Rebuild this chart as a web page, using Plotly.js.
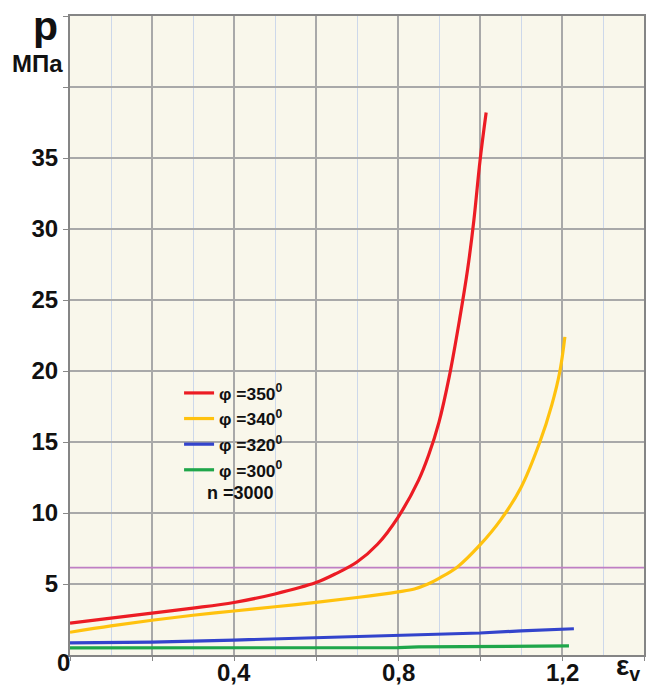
<!DOCTYPE html>
<html>
<head>
<meta charset="utf-8">
<script src="https://cdn.plot.ly/plotly-3.0.1.min.js"></script>
<style>
  html, body { margin: 0; padding: 0; background: #ffffff; }
  #chart { width: 651px; height: 689px; }
</style>
</head>
<body>
<div id="chart"></div>
<script>
// ---- data ----
const seriesNames = ["φ =350<sup>0</sup>", "φ =340<sup>0</sup>", "φ =320<sup>0</sup>", "φ =300<sup>0</sup>"];

const eps350 = [0, 0.1, 0.2, 0.3, 0.4, 0.5, 0.6, 0.65, 0.7, 0.75, 0.8, 0.85, 0.875, 0.9, 0.925, 0.95, 0.97, 0.985, 1.0, 1.015];
const p350   = [2.25, 2.6, 2.95, 3.3, 3.7, 4.3, 5.1, 5.75, 6.55, 7.8, 9.7, 12.3, 14.1, 16.4, 19.6, 23.6, 27.2, 30.6, 34.8, 38.2];

const eps340 = [0, 0.1, 0.2, 0.3, 0.4, 0.5, 0.6, 0.7, 0.8, 0.84, 0.873, 0.9, 0.945, 1.0, 1.05, 1.1, 1.146, 1.175, 1.195, 1.207];
const p340   = [1.6, 2.05, 2.45, 2.8, 3.1, 3.4, 3.7, 4.05, 4.45, 4.65, 5.0, 5.4, 6.2, 7.75, 9.5, 11.8, 15.0, 17.6, 20.0, 22.4];

const eps320 = [0, 0.2, 0.4, 0.6, 0.8, 1.0, 1.1, 1.229];
const p320   = [0.85, 0.9, 1.05, 1.2, 1.35, 1.55, 1.7, 1.85];

const eps300 = [0, 0.4, 0.8, 0.85, 1.217];
const p300   = [0.5, 0.5, 0.52, 0.57, 0.64];

const refLineY = [6.15, 6.15];
const refLineX = [0, 1.4];

const xTickVals = [0, 0.2, 0.4, 0.6, 0.8, 1.0, 1.2, 1.4];
const xLabelVals = [0.4, 0.8, 1.2];
const xLabelText = ["0,4", "0,8", "1,2"];
const yTickVals = [0, 5, 10, 15, 20, 25, 30, 35, 40, 45];
const yTickText = ["", "5", "10", "15", "20", "25", "30", "35", "", ""];

const speedLabel = "n =3000";

// ---- chart ----
const colors = ["#ec1c24", "#ffc20e", "#3344cc", "#1fa64a"];
const FONT = "Liberation Sans, Arial, sans-serif";

const traces = [
  {x: refLineX, y: refLineY, mode: "lines", line: {color: "#bf7fc4", width: 1.6}, showlegend: false, hoverinfo: "skip"},
  {x: eps350, y: p350, name: seriesNames[0], mode: "lines", line: {color: colors[0], width: 3.2, shape: "spline", smoothing: 1}},
  {x: eps340, y: p340, name: seriesNames[1], mode: "lines", line: {color: colors[1], width: 3.2, shape: "spline", smoothing: 1}},
  {x: eps320, y: p320, name: seriesNames[2], mode: "lines", line: {color: colors[2], width: 3.2}},
  {x: eps300, y: p300, name: seriesNames[3], mode: "lines", line: {color: colors[3], width: 3.2}}
];

const annotations = [
  {xref: "paper", yref: "paper", x: -0.043, y: 0.984, xanchor: "center", yanchor: "middle",
   text: "p", showarrow: false, font: {family: FONT, size: 41, color: "#111111", weight: "bold"}},
  {xref: "paper", yref: "paper", x: -0.0566, y: 0.9264, xanchor: "center", yanchor: "middle",
   text: "МПа", showarrow: false, font: {family: FONT, size: 24, color: "#111111", weight: "bold"}},
  {xref: "paper", yref: "paper", x: -0.012, y: -0.0125, xanchor: "center", yanchor: "middle",
   text: "0", showarrow: false, font: {family: FONT, size: 24, color: "#111111", weight: "bold"}},
  {xref: "paper", yref: "paper", x: 0.972, y: -0.0203, xanchor: "center", yanchor: "middle",
   text: "ε<sub>v</sub>", showarrow: false, font: {family: FONT, size: 28, color: "#111111", weight: "bold"}},
  {xref: "paper", yref: "paper", x: 0.235, y: 0.2535, xanchor: "left", yanchor: "middle",
   text: speedLabel, showarrow: false, font: {family: FONT, size: 18, color: "#111111", weight: "bold"}}
];
xLabelVals.forEach((v, i) => annotations.push({
  xref: "x", yref: "paper", x: v, y: -0.027, xanchor: "center", yanchor: "middle",
  text: xLabelText[i], showarrow: false, font: {family: FONT, size: 24, color: "#111111", weight: "bold"}
}));

const layout = {
  width: 651, height: 689,
  margin: {l: 70, r: 7, t: 16, b: 34, pad: 0},
  paper_bgcolor: "#ffffff",
  plot_bgcolor: "#f9f7eb",
  font: {family: FONT, color: "#111111", size: 18, weight: "bold"},
  showlegend: true,
  legend: {
    x: 0.19, y: 0.438, xanchor: "left", yanchor: "top",
    bgcolor: "rgba(0,0,0,0)", borderwidth: 0,
    font: {family: FONT, size: 17.4, color: "#111111", weight: "bold"},
    tracegroupgap: 0
  },
  xaxis: {
    range: [0, 1.4], tickmode: "array", tickvals: xTickVals, showticklabels: false,
    showgrid: true, gridcolor: "#a9a9a9", gridwidth: 1.5,
    minor: {dtick: 0.1, tick0: 0, showgrid: true, gridcolor: "#cdd8ea", gridwidth: 1, ticks: ""},
    ticks: "outside", ticklen: 4, tickwidth: 1, tickcolor: "#888888",
    showline: true, linecolor: "#858585", linewidth: 2, mirror: true,
    zeroline: false, fixedrange: true
  },
  yaxis: {
    range: [0, 45], tickmode: "array", tickvals: yTickVals, ticktext: yTickText,
    showgrid: true, gridcolor: "#a9a9a9", gridwidth: 1.5,
    ticks: "outside", ticklen: 5, tickwidth: 1, tickcolor: "#888888",
    showline: true, linecolor: "#858585", linewidth: 2, mirror: true,
    zeroline: false, fixedrange: true,
    tickfont: {family: FONT, size: 24, color: "#111111", weight: "bold"}
  },
  annotations: annotations
};

Plotly.newPlot("chart", traces, layout, {displayModeBar: false, staticPlot: true});
</script>
</body>
</html>
